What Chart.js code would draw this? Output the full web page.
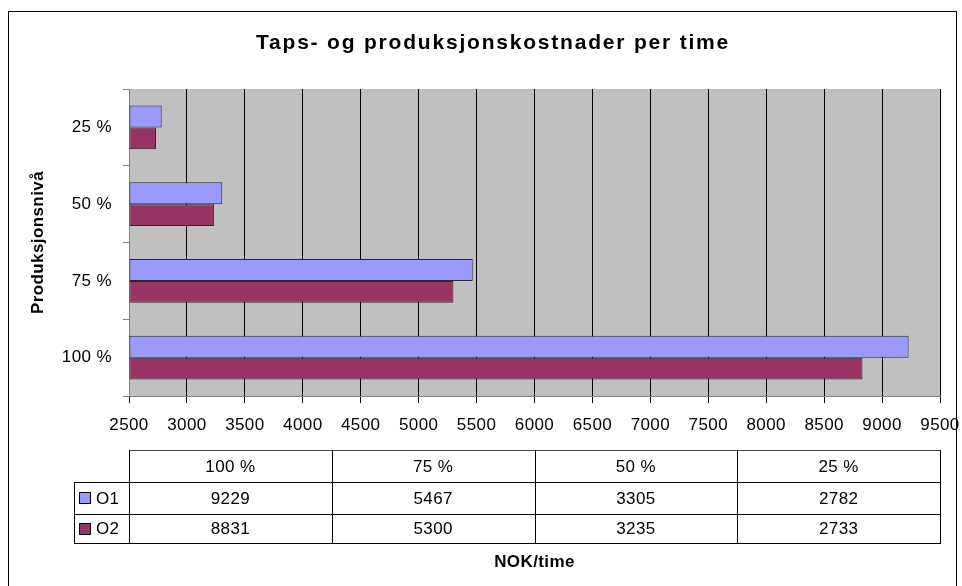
<!DOCTYPE html>
<html>
<head>
<meta charset="utf-8">
<title>Taps- og produksjonskostnader per time</title>
<script src="https://cdn.jsdelivr.net/npm/chart.js@4/dist/chart.umd.min.js"></script>
<style>
  html, body { margin: 0; padding: 0; background: #ffffff; }
  canvas { display: block; }
</style>
</head>
<body>
<canvas id="chart" width="962" height="586"></canvas>
<script>
// Production levels (bottom to top on the axis, left to right in the table)
const categories = ['100 %', '75 %', '50 %', '25 %'];
const seriesNames = ['O1', 'O2'];
const o1Values = [9229, 5467, 3305, 2782];
const o2Values = [8831, 5300, 3235, 2733];
const seriesColors = ['#9999FF', '#993366'];
const xMin = 2500;
const xMax = 9500;
const xStep = 500;
const chartTitle = 'Taps- og produksjonskostnader per time';
const yTitle = 'Produksjonsnivå';
const xTitle = 'NOK/time';

const FONT = "'Liberation Sans', Arial, sans-serif";
const TEXT_SIZE = 17;
const SPACING = '0.4px';

// Canvas-wide text spacing, background, frame, plot fill and heading
const framePlugin = {
  id: 'frame',
  beforeUpdate(chart) { chart.ctx.letterSpacing = SPACING; },
  beforeDraw(chart) {
    const { ctx, chartArea: a } = chart;
    ctx.letterSpacing = SPACING;
    ctx.save();
    ctx.fillStyle = '#ffffff';
    ctx.fillRect(0, 0, chart.width, chart.height);
    ctx.strokeStyle = '#000000';
    ctx.lineWidth = 1;
    ctx.strokeRect(8.5, 11.5, 948, 700);
    ctx.fillStyle = '#C0C0C0';
    ctx.fillRect(a.left, a.top, a.right - a.left, a.bottom - a.top);
    ctx.restore();
  },
  afterDraw(chart) {
    const { ctx } = chart;
    ctx.save();
    ctx.font = 'bold 21px ' + FONT;
    ctx.letterSpacing = '1.8px';
    ctx.fillStyle = '#000000';
    ctx.textAlign = 'center';
    ctx.textBaseline = 'alphabetic';
    ctx.fillText(chartTitle, 493, 49);
    ctx.restore();
  }
};

// Data table under the value axis, columns aligned to the plot width
const tablePlugin = {
  id: 'dataTable',
  afterDraw(chart) {
    const { ctx, chartArea: a } = chart;
    const rows = [450, 482, 514, 543];
    const keyLeft = 74;
    const colW = (a.right - a.left) / categories.length;
    const values = [o1Values, o2Values];
    ctx.save();
    ctx.lineWidth = 1;
    const hline = (x1, x2, y) => { ctx.beginPath(); ctx.moveTo(x1, y + 0.5); ctx.lineTo(x2, y + 0.5); ctx.stroke(); };
    const vline = (x, y1, y2) => { ctx.beginPath(); ctx.moveTo(Math.round(x) + 0.5, y1); ctx.lineTo(Math.round(x) + 0.5, y2); ctx.stroke(); };
    ctx.strokeStyle = '#444444';
    hline(a.left, a.right, rows[0]);
    ctx.strokeStyle = '#000000';
    hline(keyLeft, a.right, rows[1]);
    hline(keyLeft, a.right, rows[2]);
    hline(keyLeft, a.right, rows[3]);
    vline(keyLeft, rows[1], rows[3] + 1);
    for (let i = 0; i <= categories.length; i++) {
      vline(a.left + i * colW, rows[0], rows[3] + 1);
    }
    ctx.font = TEXT_SIZE + 'px ' + FONT;
    ctx.letterSpacing = SPACING;
    ctx.fillStyle = '#000000';
    ctx.textAlign = 'center';
    ctx.textBaseline = 'middle';
    categories.forEach((c, i) => {
      ctx.fillText(c, a.left + (i + 0.5) * colW, (rows[0] + rows[1]) / 2 + 1);
    });
    seriesNames.forEach((name, s) => {
      const cy = (rows[s + 1] + rows[s + 2]) / 2 + 1;
      values[s].forEach((v, i) => {
        ctx.textAlign = 'center';
        ctx.fillText(String(v), a.left + (i + 0.5) * colW, cy);
      });
      ctx.fillStyle = seriesColors[s];
      ctx.fillRect(79, Math.round(cy - 7), 12, 12);
      ctx.strokeStyle = '#000000';
      ctx.strokeRect(79.5, Math.round(cy - 7) + 0.5, 11, 11);
      ctx.fillStyle = '#000000';
      ctx.textAlign = 'left';
      ctx.fillText(name, 96, cy);
    });
    ctx.restore();
  }
};

const barStyle = {
  borderColor: '#2a2a2a',
  borderWidth: 1,
  borderSkipped: false,
  base: xMin,
  categoryPercentage: 0.571,
  barPercentage: 1.0
};

new Chart(document.getElementById('chart'), {
  type: 'bar',
  data: {
    labels: categories,
    datasets: [
      Object.assign({ label: seriesNames[0], data: o1Values, backgroundColor: seriesColors[0] }, barStyle),
      Object.assign({ label: seriesNames[1], data: o2Values, backgroundColor: seriesColors[1] }, barStyle)
    ]
  },
  options: {
    indexAxis: 'y',
    responsive: false,
    animation: false,
    devicePixelRatio: 1,
    layout: { padding: { top: 89, right: 22, left: 0, bottom: 0 } },
    plugins: {
      legend: { display: false },
      title: { display: false },
      tooltip: { enabled: false }
    },
    scales: {
      x: {
        type: 'linear',
        min: xMin,
        max: xMax,
        ticks: {
          stepSize: xStep,
          color: '#000000',
          font: { family: FONT, size: TEXT_SIZE },
          padding: 12,
          maxRotation: 0,
          autoSkip: false,
          callback: (v) => String(v)
        },
        grid: {
          color: (c) => (c.index === 0 ? 'rgba(0,0,0,0)' : '#000000'),
          tickColor: '#000000',
          tickLength: 7,
          lineWidth: 1
        },
        border: { color: '#808080' },
        title: {
          display: true,
          text: xTitle,
          color: '#000000',
          font: { family: FONT, size: TEXT_SIZE, weight: 'bold' },
          padding: { top: 0, bottom: 13 }
        },
        afterFit: (s) => {
          s.height = 190;
          s.paddingLeft = 0;
          s.paddingRight = 0;
        }
      },
      y: {
        reverse: true,
        ticks: {
          color: '#000000',
          font: { family: FONT, size: TEXT_SIZE },
          padding: 11
        },
        grid: {
          offset: true,
          drawOnChartArea: false,
          tickLength: 6,
          color: '#808080'
        },
        border: { color: '#808080' },
        title: {
          display: true,
          text: yTitle,
          color: '#000000',
          font: { family: FONT, size: TEXT_SIZE, weight: 'bold' },
          padding: { top: 28, bottom: 0 }
        },
        afterFit: (s) => { s.width = 129; }
      }
    }
  },
  plugins: [framePlugin, tablePlugin]
});
</script>
</body>
</html>
